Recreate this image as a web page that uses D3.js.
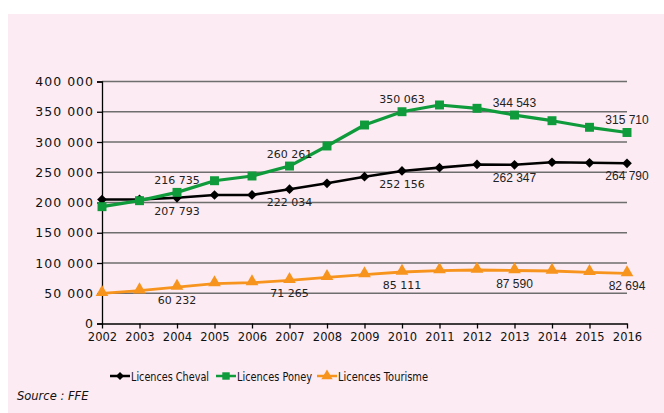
<!DOCTYPE html>
<html>
<head>
<meta charset="utf-8">
<script src="https://cdn.jsdelivr.net/npm/d3@7"></script>
<style>
  html, body { margin: 0; padding: 0; background: #ffffff; }
  svg { display: block; }
</style>
</head>
<body>
<svg id="chart" width="664" height="413"></svg>
<script>
// Licences FFE par type, 2002-2016
const years = [2002, 2003, 2004, 2005, 2006, 2007, 2008, 2009, 2010, 2011, 2012, 2013, 2014, 2015, 2016];
const cheval = [204900, 205200, 207793, 212400, 212500, 222034, 231700, 242700, 252156, 257600, 262900, 262347, 266500, 265600, 264790];
const poney = [193100, 203000, 216735, 236000, 243800, 260261, 293400, 328100, 350063, 361200, 355700, 344543, 335200, 324300, 315710];
const tourisme = [49900, 54200, 60232, 65800, 67500, 71265, 76300, 80700, 85111, 87300, 88400, 87590, 86800, 84600, 82694];
const yTicks = [0, 50000, 100000, 150000, 200000, 250000, 300000, 350000, 400000];
const seriesNames = ["Licences Cheval", "Licences Poney", "Licences Tourisme"];
// years that carry a value label
const labelledYears = [2004, 2007, 2010, 2013, 2016];

const fmt = v => d3.format(",")(v).replace(/,/g, " ");

const svg = d3.select("#chart");
svg.append("rect").attr("x", 8).attr("y", 14).attr("width", 656).attr("height", 399).attr("fill", "#fcebf2");

const x = d3.scalePoint().domain(years).range([102, 627]);
const y = d3.scaleLinear().domain([0, 400000]).range([323.5, 81.5]);

// horizontal gridlines
svg.append("g").selectAll("line").data(yTicks.filter(t => t > 0)).join("line")
  .attr("x1", 102).attr("x2", 627)
  .attr("y1", d => y(d)).attr("y2", d => y(d))
  .attr("stroke", "#6e6e6e").attr("stroke-width", 1.3);

// y axis
const yAxis = svg.append("g").attr("transform", "translate(102,0)")
  .call(d3.axisLeft(y).tickValues(yTicks).tickFormat(fmt).tickSize(5).tickPadding(3));
yAxis.select(".domain").attr("stroke", "#000").attr("stroke-width", 1.3);
yAxis.selectAll(".tick line").attr("stroke", "#000").attr("stroke-width", 1.3);
yAxis.selectAll("text").attr("font-family", "DejaVu Sans, Verdana, sans-serif")
  .attr("font-size", 12.5).attr("letter-spacing", 1).attr("fill", "#111");

// x axis
const xAxis = svg.append("g").attr("transform", `translate(0,${y(0)})`)
  .call(d3.axisBottom(x).tickSize(5).tickPadding(4).tickSizeOuter(0));
xAxis.select(".domain").attr("stroke", "#000").attr("stroke-width", 1.3);
xAxis.selectAll(".tick line").attr("stroke", "#000").attr("stroke-width", 1.3);
xAxis.selectAll("text").attr("font-family", "DejaVu Sans, Verdana, sans-serif")
  .attr("font-size", 11.5).attr("fill", "#111");

const series = [
  { name: seriesNames[0], values: cheval, color: "#000000", width: 2.6, marker: "diamond", labelPos: "below" },
  { name: seriesNames[1], values: poney, color: "#0f9a3c", width: 3.2, marker: "square", labelPos: "above" },
  { name: seriesNames[2], values: tourisme, color: "#f7941d", width: 2.8, marker: "triangle", labelPos: "below" }
];

const symbolType = { diamond: d3.symbolDiamond2, square: d3.symbolSquare, triangle: d3.symbolTriangle };
const symbolFor = {
  diamond: d3.symbol().type(d3.symbolDiamond2).size(60),
  square: d3.symbol().type(d3.symbolSquare).size(80),
  triangle: d3.symbol().type(d3.symbolTriangle).size(70)
};

const line = d3.line().x(d => x(d.year)).y(d => y(d.value));

// draw order: tourisme, cheval, poney
[series[2], series[0], series[1]].forEach(s => {
  const pts = years.map((yr, i) => ({ year: yr, value: s.values[i] }));
  svg.append("path").datum(pts).attr("d", line)
    .attr("fill", "none").attr("stroke", s.color).attr("stroke-width", s.width)
    .attr("stroke-linejoin", "round");
  svg.append("g").selectAll("path").data(pts).join("path")
    .attr("d", symbolFor[s.marker])
    .attr("transform", d => `translate(${x(d.year)},${y(d.value) + (s.marker === "triangle" ? -1 : 0)})`)
    .attr("fill", s.color);
});

// value labels
series.forEach(s => {
  const pts = years.map((yr, i) => ({ year: yr, value: s.values[i] }))
    .filter(d => labelledYears.includes(d.year));
  svg.append("g").selectAll("text").data(pts).join("text")
    .attr("x", d => x(d.year))
    .attr("y", d => y(d.value) + (s.labelPos === "above" ? -8.5 : 17))
    .attr("text-anchor", "middle")
    .attr("font-family", d => d.year >= 2013 ? "Liberation Sans, Arial, sans-serif" : "DejaVu Sans, Verdana, sans-serif")
    .attr("font-size", d => d.year >= 2013 ? 12 : 11)
    .attr("fill", "#222")
    .text(d => fmt(d.value));
});

// legend
const legend = svg.append("g");
const legendX = [110, 216, 317];
const legendTextWidth = [78, 75, 90];
series.forEach((s, i) => {
  const g = legend.append("g").attr("transform", `translate(${legendX[i]},376)`);
  g.append("line").attr("x1", 0).attr("x2", 20).attr("y1", 0).attr("y2", 0)
    .attr("stroke", s.color).attr("stroke-width", 2.5);
  g.append("path").attr("d", d3.symbol().type(symbolType[s.marker]).size(s.marker === "diamond" ? 40 : 55))
    .attr("transform", "translate(10,0)").attr("fill", s.color);
  g.append("text").attr("x", 21).attr("y", 4.5)
    .attr("font-family", "DejaVu Sans, sans-serif")
    .attr("font-size", 12).attr("fill", "#111")
    .attr("textLength", legendTextWidth[i]).attr("lengthAdjust", "spacingAndGlyphs")
    .text(s.name);
});

// source
svg.append("text").attr("x", 17).attr("y", 400)
  .attr("font-family", "DejaVu Sans, Verdana, sans-serif").attr("font-style", "italic")
  .attr("font-size", 11.5).attr("fill", "#111")
  .text("Source : FFE");
</script>
</body>
</html>
